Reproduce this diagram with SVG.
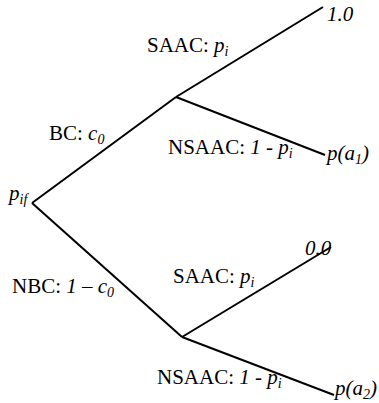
<svg xmlns="http://www.w3.org/2000/svg" width="379" height="403" viewBox="0 0 379 403">
<style>
text{font-family:"Liberation Serif","Times New Roman",serif;font-size:21px;fill:#000}
.i{font-style:italic}
.s{font-size:14px;font-style:italic}
.edge{stroke:#000;stroke-width:2;fill:none}
</style>
<rect width="379" height="403" fill="#fff"/>
<g id="connectors">
<line class="edge" x1="32" y1="203" x2="176" y2="97"/>
<line class="edge" x1="176" y1="97" x2="323" y2="7"/>
<line class="edge" x1="176" y1="97" x2="325" y2="155"/>
<line class="edge" x1="32" y1="203" x2="182" y2="337"/>
<line class="edge" x1="182" y1="337" x2="331" y2="247"/>
<line class="edge" x1="182" y1="337" x2="334" y2="395"/>
</g>
<g id="root"><text x="9" y="200"><tspan class="i">p</tspan><tspan class="s" dy="4">if</tspan></text></g>
<g id="label-bc"><text x="49" y="140">BC: <tspan class="i">c</tspan><tspan class="s" dy="4">0</tspan></text></g>
<g id="label-nbc"><text x="12" y="293">NBC: <tspan class="i">1 – c</tspan><tspan class="s" dy="4">0</tspan></text></g>
<g id="label-saac-1"><text x="147" y="52">SAAC: <tspan class="i">p</tspan><tspan class="s" dy="4">i</tspan></text></g>
<g id="label-nsaac-1"><text x="168" y="154">NSAAC: <tspan class="i">1 - p</tspan><tspan class="s" dy="4">i</tspan></text></g>
<g id="label-saac-2"><text x="173" y="283">SAAC: <tspan class="i">p</tspan><tspan class="s" dy="4">i</tspan></text></g>
<g id="label-nsaac-2"><text x="157" y="384">NSAAC: <tspan class="i">1 - p</tspan><tspan class="s" dy="4">i</tspan></text></g>
<g id="leaf-1"><text class="i" x="327" y="21">1.0</text></g>
<g id="leaf-2"><text class="i" x="327" y="160">p(a<tspan class="s" dy="4">1</tspan><tspan dy="-4">)</tspan></text></g>
<g id="leaf-3"><text class="i" x="305" y="255">0.0</text></g>
<g id="leaf-4"><text class="i" x="335" y="395">p(a<tspan class="s" dy="4">2</tspan><tspan dy="-4">)</tspan></text></g>
</svg>
